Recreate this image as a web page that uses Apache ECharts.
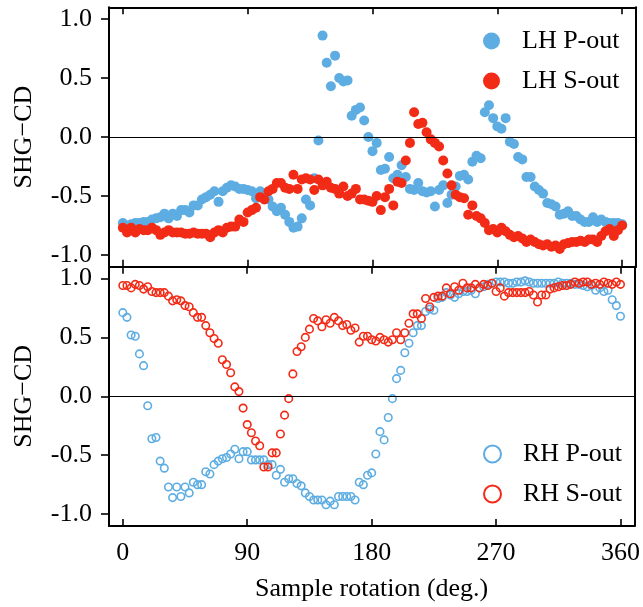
<!DOCTYPE html>
<html>
<head>
<meta charset="utf-8">
<script src="https://cdn.jsdelivr.net/npm/echarts@6/dist/echarts.min.js"></script>
<style>
html,body{margin:0;padding:0;background:#fff;}
#chart{width:643px;height:607px;}
</style>
</head>
<body>
<div id="chart"></div>
<script>
// ---- data ----
const angles = [0,3,6,9,12,15,18,21,24,27,30,33,36,39,42,45,48,51,54,57,60,63,66,69,72,75,78,81,84,87,90,93,96,99,102,105,108,111,114,117,120,123,126,129,132,135,138,141,144,147,150,153,156,159,162,165,168,171,174,177,180,183,186,189,192,195,198,201,204,207,210,213,216,219,222,225,228,231,234,237,240,243,246,249,252,255,258,261,264,267,270,273,276,279,282,285,288,291,294,297,300,303,306,309,312,315,318,321,324,327,330,333,336,339,342,345,348,351,354,357,360];

const lhPout = [-0.73,-0.75,-0.74,-0.73,-0.73,-0.72,-0.72,-0.70,-0.69,-0.68,-0.65,-0.69,-0.65,-0.67,-0.62,-0.62,-0.64,-0.58,-0.58,-0.53,-0.51,-0.49,-0.46,-0.55,-0.46,-0.43,-0.41,-0.42,-0.44,-0.44,-0.45,-0.46,-0.52,-0.46,-0.49,-0.53,-0.59,-0.63,-0.60,-0.66,-0.72,-0.77,-0.76,-0.69,-0.53,-0.58,-0.35,-0.03,0.86,0.63,0.43,0.69,0.50,0.47,0.48,0.18,0.23,0.25,0.14,0.00,-0.12,-0.05,-0.28,-0.27,-0.17,-0.35,-0.32,-0.24,-0.34,-0.44,-0.45,-0.39,-0.46,-0.47,-0.46,-0.59,-0.45,-0.41,-0.56,-0.49,-0.42,-0.33,-0.32,-0.36,-0.21,-0.16,-0.18,0.21,0.27,0.16,0.09,0.07,0.16,-0.04,-0.06,-0.17,-0.19,-0.34,-0.34,-0.42,-0.45,-0.48,-0.56,-0.57,-0.59,-0.66,-0.65,-0.63,-0.67,-0.67,-0.70,-0.72,-0.72,-0.68,-0.72,-0.70,-0.72,-0.73,-0.73,-0.73,-0.74];

const lhSout = [-0.77,-0.81,-0.77,-0.81,-0.78,-0.79,-0.79,-0.77,-0.79,-0.83,-0.81,-0.79,-0.81,-0.81,-0.81,-0.82,-0.82,-0.81,-0.82,-0.82,-0.82,-0.85,-0.81,-0.79,-0.81,-0.77,-0.76,-0.76,-0.70,-0.72,-0.64,-0.62,-0.60,-0.51,-0.53,-0.46,-0.44,-0.39,-0.39,-0.43,-0.44,-0.32,-0.44,-0.36,-0.35,-0.36,-0.45,-0.36,-0.41,-0.38,-0.43,-0.44,-0.48,-0.42,-0.50,-0.48,-0.44,-0.53,-0.53,-0.54,-0.55,-0.50,-0.62,-0.51,-0.44,-0.58,-0.38,-0.39,-0.20,-0.05,0.21,0.11,0.12,0.04,-0.02,-0.05,-0.08,-0.20,-0.31,-0.41,-0.49,-0.51,-0.52,-0.66,-0.58,-0.67,-0.69,-0.73,-0.79,-0.78,-0.81,-0.77,-0.80,-0.83,-0.85,-0.84,-0.86,-0.89,-0.87,-0.89,-0.91,-0.92,-0.91,-0.93,-0.92,-0.95,-0.91,-0.90,-0.89,-0.89,-0.88,-0.89,-0.87,-0.87,-0.89,-0.84,-0.80,-0.78,-0.84,-0.79,-0.75];

const rhPout = [0.71,0.67,0.52,0.51,0.36,0.26,-0.08,-0.36,-0.35,-0.55,-0.61,-0.77,-0.86,-0.77,-0.85,-0.77,-0.82,-0.73,-0.75,-0.75,-0.64,-0.66,-0.58,-0.55,-0.53,-0.52,-0.49,-0.45,-0.53,-0.47,-0.47,-0.54,-0.54,-0.54,-0.54,-0.58,-0.58,-0.67,-0.62,-0.73,-0.70,-0.70,-0.74,-0.76,-0.82,-0.85,-0.88,-0.88,-0.88,-0.92,-0.89,-0.92,-0.85,-0.85,-0.85,-0.85,-0.88,-0.73,-0.75,-0.67,-0.65,-0.49,-0.30,-0.37,-0.18,-0.02,0.15,0.22,0.37,0.45,0.54,0.60,0.60,0.72,0.74,0.73,0.83,0.84,0.88,0.86,0.84,0.87,0.89,0.89,0.90,0.87,0.92,0.93,0.95,0.96,0.97,0.97,0.97,0.96,0.96,0.97,0.97,0.98,0.97,0.96,0.96,0.96,0.96,0.96,0.96,0.97,0.96,0.96,0.96,0.95,0.95,0.94,0.93,0.94,0.90,0.92,0.89,0.90,0.82,0.77,0.68];

const rhSout = [0.94,0.94,0.92,0.95,0.94,0.91,0.93,0.89,0.88,0.88,0.88,0.85,0.81,0.82,0.81,0.77,0.76,0.71,0.67,0.67,0.60,0.54,0.49,0.45,0.31,0.27,0.20,0.08,0.04,-0.10,-0.24,-0.31,-0.38,-0.42,-0.60,-0.60,-0.48,-0.48,-0.32,-0.16,-0.02,0.19,0.38,0.42,0.50,0.57,0.66,0.64,0.59,0.65,0.62,0.67,0.64,0.60,0.61,0.56,0.58,0.46,0.51,0.51,0.48,0.47,0.50,0.48,0.46,0.48,0.54,0.48,0.54,0.62,0.70,0.70,0.66,0.83,0.76,0.84,0.85,0.85,0.92,0.87,0.93,0.90,0.96,0.92,0.92,0.95,0.92,0.95,0.94,0.96,0.89,0.92,0.85,0.88,0.88,0.88,0.88,0.88,0.89,0.86,0.80,0.86,0.86,0.91,0.92,0.93,0.94,0.94,0.95,0.97,0.96,0.97,0.97,0.95,0.96,0.95,0.97,0.96,0.95,0.97,0.95];

const xTicks = [0, 90, 180, 270, 360];
const yTicks = [-1.0, -0.5, 0.0, 0.5, 1.0];
const seriesNames = ['LH P-out', 'LH S-out', 'RH P-out', 'RH S-out'];

// ---- style ----
const FONT = 'Liberation Serif';
const BLUE = '#5DADE2';
const RED = '#F22B17';
const XMIN = -10, XMAX = 370, YMIN = -1.1, YMAX = 1.1;

function pairs(vals) { return angles.map((a, i) => [a, vals[i]]); }

function xAxisDef(grid, pos, labels) {
  return {
    type: 'value', gridIndex: grid, position: pos, min: XMIN, max: XMAX,
    axisLine: { show: true, onZero: false, lineStyle: { color: '#000', width: 2 } },
    axisTick: { show: true, inside: true, length: 7, customValues: xTicks, lineStyle: { color: '#000', width: 1.6 } },
    axisLabel: labels ? { show: true, customValues: xTicks, margin: 14, color: '#000', fontFamily: FONT, fontSize: 26 } : { show: false },
    splitLine: { show: false },
    name: labels ? 'Sample rotation (deg.)' : '',
    nameLocation: 'middle', nameGap: 50,
    nameTextStyle: { color: '#000', fontFamily: FONT, fontSize: 26 }
  };
}
function yAxisDef(grid, pos, main) {
  return {
    type: 'value', gridIndex: grid, position: pos, min: YMIN, max: YMAX,
    axisLine: { show: true, onZero: false, lineStyle: { color: '#000', width: 2 } },
    axisTick: main ? { show: true, inside: false, length: 8, customValues: yTicks, lineStyle: { color: '#000', width: 1.6 } } : { show: false },
    axisLabel: main ? { show: true, customValues: yTicks, margin: 17, color: '#000', fontFamily: FONT, fontSize: 26,
      formatter: v => v.toFixed(1) } : { show: false },
    splitLine: { show: false },
    name: main ? 'SHG\u2212CD' : '',
    nameLocation: 'middle', nameGap: 72, nameRotate: 90,
    nameTextStyle: { color: '#000', fontFamily: FONT, fontSize: 26 }
  };
}
const zeroLine = {
  silent: true, symbol: ['none', 'none'], label: { show: false },
  lineStyle: { color: '#000', width: 1.2, type: 'solid' },
  emphasis: { disabled: true }, animation: false,
  data: [{ yAxis: 0 }]
};

const chart = echarts.init(document.getElementById('chart'), null, { renderer: 'canvas' });
chart.setOption({
  animation: false,
  backgroundColor: '#fff',
  grid: [
    { left: 109, right: 7, top: 7.3, height: 259.4 },
    { left: 109, right: 7, top: 266.7, height: 259.2 }
  ],
  xAxis: [xAxisDef(0, 'bottom', false), xAxisDef(0, 'top', false), xAxisDef(1, 'bottom', true), xAxisDef(1, 'top', false)],
  yAxis: [yAxisDef(0, 'left', true), yAxisDef(0, 'right', false), yAxisDef(1, 'left', true), yAxisDef(1, 'right', false)],
  legend: [
    {
      orient: 'vertical', left: 478, top: 22, itemWidth: 17, itemHeight: 17, itemGap: 12,
      icon: 'circle',
      textStyle: { color: '#000', fontFamily: FONT, fontSize: 26, lineHeight: 28, padding: [0, 0, 0, 17] },
      data: [seriesNames[0], seriesNames[1]]
    },
    {
      orient: 'vertical', left: 478, top: 435, itemWidth: 17, itemHeight: 17, itemGap: 12,
      icon: 'circle',
      textStyle: { color: '#000', fontFamily: FONT, fontSize: 26, lineHeight: 28, padding: [0, 0, 0, 17] },
      data: [
        { name: seriesNames[2], itemStyle: { color: '#fff', borderColor: BLUE, borderWidth: 2 } },
        { name: seriesNames[3], itemStyle: { color: '#fff', borderColor: RED, borderWidth: 2 } }
      ]
    }
  ],
  series: [
    { name: seriesNames[0], type: 'scatter', xAxisIndex: 0, yAxisIndex: 0, symbol: 'circle', symbolSize: 10,
      itemStyle: { color: BLUE, opacity: 1 }, data: pairs(lhPout), markLine: zeroLine, z: 2 },
    { name: seriesNames[1], type: 'scatter', xAxisIndex: 0, yAxisIndex: 0, symbol: 'circle', symbolSize: 10,
      itemStyle: { color: RED, opacity: 1 }, data: pairs(lhSout), z: 3 },
    { name: seriesNames[2], type: 'scatter', xAxisIndex: 2, yAxisIndex: 2, symbol: 'circle', symbolSize: 7.5,
      itemStyle: { color: 'rgba(255,255,255,0)', borderColor: BLUE, borderWidth: 1.6, opacity: 1 }, data: pairs(rhPout), markLine: zeroLine, z: 2 },
    { name: seriesNames[3], type: 'scatter', xAxisIndex: 2, yAxisIndex: 2, symbol: 'circle', symbolSize: 7.5,
      itemStyle: { color: 'rgba(255,255,255,0)', borderColor: RED, borderWidth: 1.6, opacity: 1 }, data: pairs(rhSout), z: 3 }
  ]
});
</script>
</body>
</html>
